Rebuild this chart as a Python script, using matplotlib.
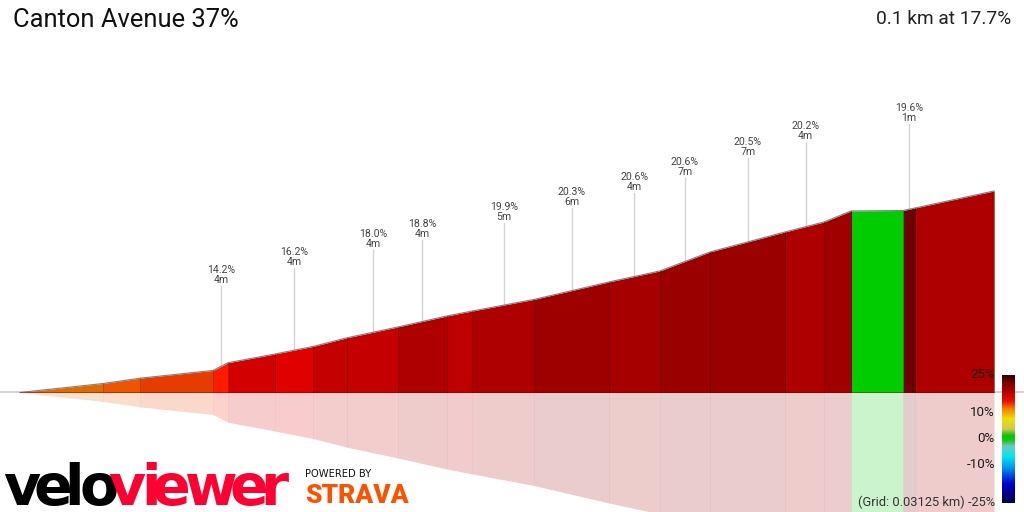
import numpy as np
import matplotlib
matplotlib.use('Agg')
import matplotlib.pyplot as plt
from matplotlib.colors import LinearSegmentedColormap, to_rgb

plt.rcParams['font.family'] = ['Roboto', 'DejaVu Sans']

# profile, metres along the climb / metres gained
dist = [0, 8.52, 12.32, 19.82, 21.36, 26.18, 30.08, 33.6, 38.81, 43.8, 46.41,
        52.77, 60.47, 65.71, 70.84, 78.54, 82.55, 85.32, 90.66, 91.89, 100.0]
elev = [0, 0.79, 1.26, 1.94, 2.62, 3.39, 4.05, 4.82, 5.77, 6.73, 7.17,
        8.19, 9.73, 10.70, 12.37, 14.13, 15.01, 15.98, 16.02, 16.24, 17.74]

# callouts
call_dist = [20.64, 28.13, 36.29, 41.27, 49.69, 56.67, 63.09, 68.28, 74.74, 80.65, 91.27]
call_top = [9.37, 10.96, 12.54, 13.42, 14.92, 16.24, 17.56, 18.88, 20.64, 22.05, 23.64]
call_pct = ['14.2%', '16.2%', '18.0%', '18.8%', '19.9%', '20.3%', '20.6%', '20.6%', '20.5%', '20.2%', '19.6%']
call_len = ['4m', '4m', '4m', '4m', '5m', '6m', '4m', '7m', '7m', '4m', '1m']

scale_labels = ['25%', '10%', '0%', '-10%']

seg_colors = ['#e06c00', '#ee5500', '#e63c00', '#ff1a00', '#d20000', '#e00000', '#c40000',
              '#c40000', '#ae0000', '#c00000', '#ae0000', '#9e0000', '#a60000', '#9a0000',
              '#9a0000', '#ae0000', '#a00000', '#00cc00', '#6e0000', '#ae0000']

fig = plt.figure(figsize=(10.24, 5.12), dpi=100)
ax = fig.add_axes([0, 0, 1, 1])
ax.set_xlim(-2.053, 103.08)
ax.set_ylim(-10.52, 34.55)
ax.axis('off')

ax.axhline(0, color='#cccccc', lw=1.2, zorder=1)

for i, c in enumerate(seg_colors):
    xs = dist[i:i + 2]
    ys = elev[i:i + 2]
    ax.fill_between(xs, 0, ys, color=c, lw=0, zorder=2)
    ax.fill_between(xs, 0, [-y for y in ys], color=c, alpha=0.2, lw=0, zorder=2)
    if i > 0:
        edge = [v * 0.75 for v in to_rgb(seg_colors[i - 1])]
        ax.plot([dist[i], dist[i]], [0, elev[i]], color=edge, lw=0.7, zorder=3)
        ax.plot([dist[i], dist[i]], [0, -elev[i]], color=edge, lw=0.4, alpha=0.08, zorder=3)

ax.plot(dist, elev, color='#808080', lw=0.8, zorder=4)
ax.plot([dist[-1], dist[-1]], [0, elev[-1]], color='#bbbbbb', lw=0.8, zorder=1.5)
ax.plot([dist[0], dist[-1]], [0, 0], color='#700000', lw=0.6, alpha=0.5, zorder=4)

for x, top, pct, ln in zip(call_dist, call_top, call_pct, call_len):
    ax.plot([x, x], [np.interp(x, dist, elev), top], color='#d4d4d4', lw=1.0, zorder=1)
    ax.annotate(pct + '\n' + ln, (x, top), xytext=(0, 1), textcoords='offset pixels',
                ha='center', va='bottom', fontsize=7.6, color='#444444', linespacing=0.98)

# everything else is laid out in figure pixels
over = fig.add_axes([0, 0, 1, 1], facecolor='none')
over.axis('off')

over.text(13, 20, 'Canton Avenue 37%', fontsize=18.4, color='#111111', va='center', ha='left')
over.text(1011, 19, '0.1 km at 17.7%', fontsize=13.8, color='#222222', va='center', ha='right')

# colour scale
cmap = LinearSegmentedColormap.from_list('grad', [
    (0.0, '#00004a'), (0.15, '#0000d0'), (0.27, '#0090f0'), (0.36, '#00e8e8'), (0.44, '#70c8c0'),
    (0.49, '#10c810'), (0.53, '#10c010'), (0.58, '#d0c850'), (0.66, '#f0e000'), (0.74, '#f08000'),
    (0.80, '#e81000'), (0.88, '#b00000'), (0.94, '#800000'), (1.0, '#300000')])
over.imshow(np.linspace(1, 0, 128)[:, None], cmap=cmap, extent=(1002, 1015, 503, 375),
            aspect='auto', zorder=5)
over.set_xlim(0, 1024)
over.set_ylim(512, 0)
scale_y = [375, 413, 438, 464]
for lab, y in zip(scale_labels, scale_y):
    over.text(995, y, lab, fontsize=9.6, color='#1a1a1a', ha='right', va='center', zorder=6)
over.text(995, 502, '(Grid: 0.03125 km) -25%', fontsize=9.3, color='#333333', ha='right', va='center', zorder=6)

# logos
logo = dict(fontsize=41, fontweight='bold', family='DejaVu Sans', va='baseline', ha='left')
for ch, x in zip('velo', [3, 33, 64, 79]):
    over.text(x, 505, ch, color='black', **logo)
for ch, x in zip('viewer', [108, 141, 152, 185, 230, 260]):
    over.text(x, 505, ch, color='#ff0033', **logo)
over.text(305, 474, 'POWERED BY', fontsize=7.2, family='DejaVu Sans', color='#111111', va='center', ha='left')
over.text(305, 503, 'STRAVA', fontsize=19, fontweight='black', color='#fc5200', va='baseline', ha='left')

fig.savefig('out.png', dpi=100)
